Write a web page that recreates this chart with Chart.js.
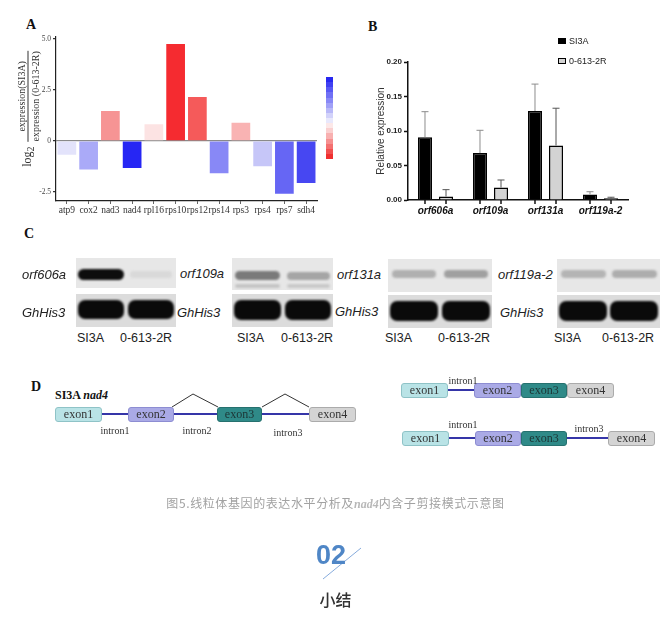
<!DOCTYPE html>
<html lang="zh-CN">
<head>
<meta charset="UTF-8">
<title>线粒体基因的表达水平分析</title>
<script src="https://cdn.jsdelivr.net/npm/chart.js"></script>
<style>
    body{ margin:0; background:#fff; }
    #fig{ position:relative; width:671px; height:628px; overflow:hidden; font-family:Arial,"Liberation Sans",sans-serif; }
    .panel{ position:absolute; font-family:"Liberation Serif",serif; font-weight:bold; font-size:14px; color:#111; }
    #chartA{ position:absolute; left:30px; top:30px; }
    #chartB{ position:absolute; left:355px; top:55px; }
    /* titulo del eje y del panel A (fraccion girada) */
    #ytitleA{ position:absolute; left:28px; top:109px; transform:translate(-50%,-50%) rotate(-90deg);
        display:flex; align-items:center; font-family:"Liberation Serif",serif; font-size:10px; color:#333; white-space:nowrap; }
    #ytitleA .lg{ font-size:12px; margin-right:5px; }
    #ytitleA .frac{ display:flex; flex-direction:column; text-align:center; }
    #ytitleA .num{ border-bottom:1px solid #333; padding:0 4px 1px; }
    #ytitleA .den{ padding-top:1px; }
    #scaleA{ position:absolute; left:326px; top:77px; width:7px; height:82px; }
    .legB{ position:absolute; font-size:9px; color:#222; }
    .legB i{ position:absolute; left:0; top:2px; width:8px; height:6px; border:1px solid #000; box-sizing:border-box; }
    .legB span{ position:absolute; left:11px; top:0; white-space:nowrap; }
    /* geles */
    .gel{ position:absolute; background:#e7e7e7; overflow:hidden; }
    .gel.low{ background:#dcdcdc; }
    .band{ position:absolute; border-radius:7px; filter:blur(1.3px); }
    .glab{ position:absolute; font-style:italic; font-size:13px; color:#222; transform:translateY(-50%); white-space:nowrap; }
    .lane{ position:absolute; font-size:12.5px; color:#222; transform:translateY(-50%); white-space:nowrap; }
    /* esquema de nad4 */
    .exon{ position:absolute; height:15px; border:1px solid; border-radius:3px; box-sizing:border-box;
        font-family:"Liberation Serif",serif; font-size:12px; line-height:13px; text-align:center; color:#333; }
    .e1{ background:#b9e3e6; border-color:#8fc3c7; }
    .e2{ background:#aaaae6; border-color:#8d8dd2; }
    .e3{ background:#2f8a88; border-color:#26716f; color:#1c3434; }
    .e4{ background:#d4d4d4; border-color:#ababab; }
    .intron{ position:absolute; height:2px; background:#3535a8; }
    .itx{ position:absolute; font-family:"Liberation Serif",serif; font-size:10px; color:#333; transform:translate(-50%,-50%); white-space:nowrap; }
    #caption{ position:absolute; left:0; width:671px; top:494px; text-align:center; font-family:"Noto Sans CJK SC",sans-serif;
        font-size:12px; letter-spacing:0.6px; color:#a2a2a2; }
    #caption em{ font-family:"Liberation Serif",serif; font-weight:bold; color:#b8b8b8; letter-spacing:0; }
    #num02{ position:absolute; left:316px; top:540px; font-family:Arial,"Liberation Sans",sans-serif; font-weight:bold; font-size:27px; color:#4f86c6; }
    #summary{ position:absolute; left:0; width:671px; top:587px; text-align:center; font-family:"Noto Sans CJK SC",sans-serif;
        font-size:16px; font-weight:500; color:#333; }
</style>
</head>
<body>
<div id="fig">
    <div class="panel" style="left:26px;top:17px;">A</div>
    <div class="panel" style="left:368px;top:19px;">B</div>
    <div class="panel" style="left:24px;top:226px;">C</div>
    <div class="panel" style="left:31px;top:379px;">D</div>

    <canvas id="chartA" width="295" height="190"></canvas>
    <div id="ytitleA"><span class="lg">log<sub>2</sub></span><span class="frac"><span class="num">expression(SI3A)</span><span class="den">expression (0-613-2R)</span></span></div>
    <div id="scaleA"></div>

    <canvas id="chartB" width="280" height="165"></canvas>
    <div class="legB" style="left:558px;top:36px;"><i style="background:#000"></i><span>SI3A</span></div>
    <div class="legB" style="left:558px;top:56px;"><i style="background:#d3d3d3"></i><span>0-613-2R</span></div>

    <!-- C: geles -->
    <div class="gel" style="left:76px;top:258px;width:100px;height:30px;">
        <div class="band" style="left:2px;top:11px;width:46px;height:11px;background:#0d0d0d;"></div>
        <div class="band" style="left:54px;top:13px;width:42px;height:7px;background:#d9d9d9;"></div>
    </div>
    <div class="gel low" style="left:76px;top:294px;width:100px;height:33px;">
        <div class="band" style="left:2px;top:6px;width:46px;height:19px;background:#0a0a0a;"></div>
        <div class="band" style="left:52px;top:6px;width:46px;height:19px;background:#0a0a0a;"></div>
    </div>
    <div class="gel" style="left:232px;top:258px;width:101px;height:32px;">
        <div class="band" style="left:3px;top:13px;width:45px;height:9px;background:#7a7a7a;"></div>
        <div class="band" style="left:3px;top:26px;width:45px;height:4px;background:#c4c4c4;"></div>
        <div class="band" style="left:55px;top:14px;width:43px;height:8px;background:#a5a5a5;"></div>
        <div class="band" style="left:55px;top:26px;width:43px;height:4px;background:#c9c9c9;"></div>
    </div>
    <div class="gel low" style="left:232px;top:294px;width:101px;height:33px;">
        <div class="band" style="left:2px;top:6px;width:47px;height:20px;background:#0a0a0a;"></div>
        <div class="band" style="left:53px;top:6px;width:46px;height:20px;background:#0a0a0a;"></div>
    </div>
    <div class="gel" style="left:388px;top:259px;width:104px;height:33px;">
        <div class="band" style="left:4px;top:11px;width:44px;height:8px;background:#b0b0b0;"></div>
        <div class="band" style="left:56px;top:11px;width:44px;height:8px;background:#a0a0a0;"></div>
    </div>
    <div class="gel low" style="left:388px;top:295px;width:104px;height:33px;">
        <div class="band" style="left:2px;top:6px;width:48px;height:20px;background:#0a0a0a;"></div>
        <div class="band" style="left:54px;top:6px;width:48px;height:20px;background:#0a0a0a;"></div>
    </div>
    <div class="gel" style="left:557px;top:259px;width:103px;height:33px;">
        <div class="band" style="left:4px;top:11px;width:45px;height:8px;background:#b4b4b4;"></div>
        <div class="band" style="left:55px;top:11px;width:45px;height:8px;background:#adadad;"></div>
    </div>
    <div class="gel low" style="left:557px;top:295px;width:103px;height:33px;">
        <div class="band" style="left:2px;top:6px;width:48px;height:20px;background:#0a0a0a;"></div>
        <div class="band" style="left:53px;top:6px;width:48px;height:20px;background:#0a0a0a;"></div>
    </div>

    <div class="glab" style="left:22px;top:274px;">orf606a</div>
    <div class="glab" style="left:22px;top:312px;">GhHis3</div>
    <div class="glab" style="left:180px;top:273px;">orf109a</div>
    <div class="glab" style="left:177px;top:312px;">GhHis3</div>
    <div class="glab" style="left:337px;top:274px;">orf131a</div>
    <div class="glab" style="left:335px;top:311px;">GhHis3</div>
    <div class="glab" style="left:498px;top:274px;">orf119a-2</div>
    <div class="glab" style="left:500px;top:312px;">GhHis3</div>

    <div class="lane" style="left:77px;top:338px;">SI3A</div>
    <div class="lane" style="left:120px;top:338px;">0-613-2R</div>
    <div class="lane" style="left:237px;top:338px;">SI3A</div>
    <div class="lane" style="left:281px;top:338px;">0-613-2R</div>
    <div class="lane" style="left:385px;top:338px;">SI3A</div>
    <div class="lane" style="left:438px;top:338px;">0-613-2R</div>
    <div class="lane" style="left:554px;top:338px;">SI3A</div>
    <div class="lane" style="left:602px;top:338px;">0-613-2R</div>

    <!-- D: esquema de corte y empalme -->
    <div class="panel" style="left:55px;top:388px;font-size:12px;">SI3A <i>nad4</i></div>
    <svg style="position:absolute;left:0;top:0;" width="671" height="628">
        <polyline points="172,407 193,394 218,407" fill="none" stroke="#333" stroke-width="1"/>
        <polyline points="262,407 285,394 309,407" fill="none" stroke="#333" stroke-width="1"/>
        <line x1="323" y1="579" x2="361" y2="548" stroke="#86abdc" stroke-width="1"/>
    </svg>
    <div class="intron" style="left:102px;top:413px;width:26px;"></div>
    <div class="intron" style="left:174px;top:413px;width:43px;"></div>
    <div class="intron" style="left:262px;top:413px;width:47px;"></div>
    <div class="exon e1" style="left:55px;top:407px;width:47px;">exon1</div>
    <div class="exon e2" style="left:128px;top:407px;width:46px;">exon2</div>
    <div class="exon e3" style="left:217px;top:407px;width:45px;">exon3</div>
    <div class="exon e4" style="left:309px;top:407px;width:47px;">exon4</div>
    <div class="itx" style="left:115px;top:430px;">intron1</div>
    <div class="itx" style="left:197px;top:430px;">intron2</div>
    <div class="itx" style="left:288px;top:432px;">intron3</div>

    <div class="intron" style="left:448px;top:389px;width:26px;"></div>
    <div class="exon e1" style="left:401px;top:383px;width:47px;">exon1</div>
    <div class="exon e2" style="left:474px;top:383px;width:47px;">exon2</div>
    <div class="exon e3" style="left:521px;top:383px;width:46px;">exon3</div>
    <div class="exon e4" style="left:567px;top:383px;width:47px;">exon4</div>
    <div class="itx" style="left:463px;top:380px;">intron1</div>

    <div class="intron" style="left:449px;top:437px;width:26px;"></div>
    <div class="intron" style="left:567px;top:437px;width:41px;"></div>
    <div class="exon e1" style="left:402px;top:431px;width:47px;">exon1</div>
    <div class="exon e2" style="left:475px;top:431px;width:46px;">exon2</div>
    <div class="exon e3" style="left:521px;top:431px;width:46px;">exon3</div>
    <div class="exon e4" style="left:608px;top:431px;width:47px;">exon4</div>
    <div class="itx" style="left:463px;top:424px;">intron1</div>
    <div class="itx" style="left:589px;top:428px;">intron3</div>

    <div id="caption">图5.线粒体基因的表达水平分析及<em><i>nad4</i></em>内含子剪接模式示意图</div>
    <div id="num02">02</div>
    <div id="summary">小结</div>
</div>

<script>
    // Panel A: log2(SI3A / 0-613-2R)
    const genes = ['atp9', 'cox2', 'nad3', 'nad4', 'rpl16', 'rps10', 'rps12', 'rps14', 'rps3', 'rps4', 'rps7', 'sdh4'];
    const log2Ratio = [-0.68, -1.41, 1.46, -1.33, 0.81, 4.75, 2.15, -1.59, 0.89, -1.25, -2.60, -2.07];
    const ratioTicks = [-2.5, 0, 2.5, 5.0];

    // Panel B: expresion relativa (media y desviacion)
    const orfs = ['orf606a', 'orf109a', 'orf131a', 'orf119a-2'];
    const si3aMean = [0.091, 0.068, 0.129, 0.008];
    const si3aSd = [0.037, 0.033, 0.039, 0.004];
    const r613Mean = [0.005, 0.018, 0.079, 0.0024];
    const r613Sd = [0.010, 0.011, 0.054, 0.0016];
    const relTicks = [0, 0.05, 0.10, 0.15, 0.20];

    // colores de las barras (como en la figura original)
    const barColorsA = ['#e3e3fb', '#aaaaf8', '#f69494', '#2626f4', '#fce3e3', '#f52b30',
                        '#f55a5a', '#8888f6', '#f9b3b3', '#c6c6f8', '#6666f4', '#4747f2'];
    const scaleSteps = ['#2828f0', '#4040f2', '#5858f4', '#7070f5', '#8888f6', '#a0a0f7', '#b8b8f8', '#d2d2fa',
                        '#e8e8fc', '#fce8e8', '#fad0d0', '#f8b0b0', '#f69090', '#f47070', '#f25050', '#f03030'];

    // barra de escala de color
    const sc = document.getElementById('scaleA');
    sc.style.background = 'linear-gradient(to bottom,' + scaleSteps.map((c, i) =>
        `${c} ${(i / scaleSteps.length * 100).toFixed(2)}%, ${c} ${((i + 1) / scaleSteps.length * 100).toFixed(2)}%`).join(',') + ')';

    Chart.defaults.font.family = 'Arial, "Liberation Sans", sans-serif';

    new Chart(document.getElementById('chartA'), {
        type: 'bar',
        data: {
            labels: genes,
            datasets: [{
                data: log2Ratio,
                backgroundColor: barColorsA,
                borderWidth: 0,
                categoryPercentage: 1,
                barPercentage: 0.86
            }]
        },
        options: {
            responsive: false,
            animation: false,
            layout: { padding: { left: 0, right: 8, top: 5, bottom: 0 } },
            plugins: { legend: { display: false }, tooltip: { enabled: false } },
            scales: {
                x: {
                    afterFit: s => { s.height = 19; },
                    border: { color: '#222', width: 1.2 },
                    grid: { offset: false, drawOnChartArea: false, tickLength: 3, tickColor: '#666' },
                    ticks: { autoSkip: false, maxRotation: 0, padding: 1, color: '#333',
                             font: { family: '"Liberation Serif", serif', size: 9.5 } }
                },
                y: {
                    min: -2.95,
                    max: 5.12,
                    afterFit: s => { s.width = 26; },
                    afterBuildTicks: s => { s.ticks = ratioTicks.map(v => ({ value: v })); },
                    border: { color: '#222', width: 1.2 },
                    grid: { color: c => c.tick && c.tick.value === 0 ? '#8a8a8a' : 'transparent',
                            lineWidth: 1.2, tickLength: 3, tickColor: '#333' },
                    ticks: { padding: 2, color: '#444', callback: v => v === 0 ? '0' : v.toFixed(1),
                             font: { family: '"Liberation Serif", serif', size: 7.5 } }
                }
            }
        }
    });

    // barras de error (solo hacia arriba) y marcas bajo cada barra
    const errorBars = {
        id: 'errorBars',
        afterDatasetsDraw(chart) {
            const { ctx, scales: { y } } = chart;
            ctx.save();
            chart.data.datasets.forEach((ds, i) => {
                const meta = chart.getDatasetMeta(i);
                meta.data.forEach((bar, j) => {
                    const yTop = y.getPixelForValue(ds.data[j] + ds.errors[j]);
                    const yVal = y.getPixelForValue(ds.data[j]);
                    const half = bar.width / 4;
                    ctx.strokeStyle = ds.errorColor;
                    ctx.lineWidth = 1;
                    ctx.beginPath();
                    ctx.moveTo(bar.x, yVal);
                    ctx.lineTo(bar.x, yTop);
                    ctx.moveTo(bar.x - half, yTop);
                    ctx.lineTo(bar.x + half, yTop);
                    ctx.stroke();
                    // marca del eje x
                    ctx.strokeStyle = '#111';
                    ctx.lineWidth = 1.5;
                    ctx.beginPath();
                    ctx.moveTo(bar.x, y.bottom);
                    ctx.lineTo(bar.x, y.bottom + 4);
                    ctx.stroke();
                });
            });
            ctx.restore();
        }
    };

    new Chart(document.getElementById('chartB'), {
        type: 'bar',
        data: {
            labels: orfs,
            datasets: [{
                label: 'SI3A',
                data: si3aMean,
                errors: si3aSd,
                errorColor: '#8c8c8c',
                backgroundColor: '#000',
                borderColor: '#000',
                borderWidth: 1.5,
                categoryPercentage: 0.764,
                barPercentage: 0.667
            }, {
                label: '0-613-2R',
                data: r613Mean,
                errors: r613Sd,
                errorColor: '#555',
                backgroundColor: '#d3d3d3',
                borderColor: '#000',
                borderWidth: 1.5,
                categoryPercentage: 0.764,
                barPercentage: 0.667
            }]
        },
        options: {
            responsive: false,
            animation: false,
            layout: { padding: { left: 12, right: 7, top: 7, bottom: 0 } },
            plugins: { legend: { display: false }, tooltip: { enabled: false } },
            scales: {
                x: {
                    afterFit: s => { s.height = 20; },
                    border: { color: '#111', width: 1.5 },
                    grid: { display: false, drawTicks: false },
                    ticks: { autoSkip: false, maxRotation: 0, padding: 5, color: '#111',
                             font: { size: 10, weight: 'bold', style: 'italic' } }
                },
                y: {
                    min: 0,
                    max: 0.2,
                    afterFit: s => { s.width = 41; },
                    afterBuildTicks: s => { s.ticks = relTicks.map(v => ({ value: v })); },
                    border: { color: '#111', width: 1.5 },
                    grid: { drawOnChartArea: false, tickLength: 4, tickColor: '#111', tickWidth: 1.5 },
                    ticks: { padding: 2, color: '#222', callback: v => v.toFixed(2),
                             font: { size: 8, weight: 'bold' } },
                    title: { display: true, text: 'Relative expression', color: '#333',
                             font: { size: 10 }, padding: { top: 8, bottom: 0 } }
                }
            }
        },
        plugins: [errorBars]
    });
</script>
</body>
</html>
